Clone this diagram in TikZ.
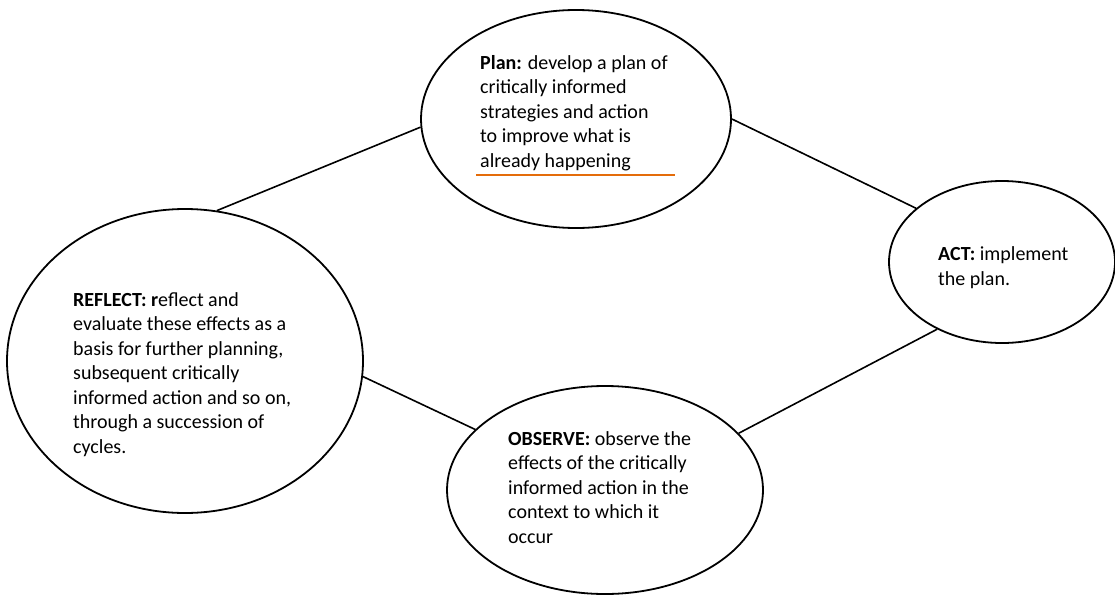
\documentclass[tikz,border=0pt]{standalone}
\usepackage{fontspec}
\setmainfont{Carlito}
\usetikzlibrary{positioning,shapes}
\definecolor{lineorange}{RGB}{228,108,10}

\begin{document}
\begin{tikzpicture}[
  x=1pt,y=-1pt,
  stage/.style={draw,ellipse,line width=1.8pt,inner sep=0pt},
  stagetext/.style={align=left,anchor=base west,inner sep=0pt,
    font=\fontsize{20}{24.5}\selectfont}
]
\useasboundingbox (0,0) rectangle (1115,594);

\node[stage,minimum width=310pt,minimum height=218pt] (plan) at (576,119) {};
\node[stage,minimum width=226pt,minimum height=162pt] (act) at (1002,262) {};
\node[stage,minimum width=356pt,minimum height=304pt] (reflect) at (185,361) {};
\node[stage,minimum width=316pt,minimum height=208pt] (observe) at (605,490) {};

% text blocks, anchored at the last line
\node[stagetext] (plantext) at ([shift={(-96,48)}]plan.center)
  {\textbf{Plan:} develop a plan of\\critically informed\\strategies and action\\to improve what is\\already happening};
\node[stagetext] (acttext) at ([shift={(-64,23)}]act.center)
  {\textbf{ACT:} implement\\the plan.};
\node[stagetext] (reflecttext) at ([shift={(-112,92)}]reflect.center)
  {\textbf{REFLECT: r}eflect and\\evaluate these effects as a\\basis for further planning,\\subsequent critically\\informed action and so on,\\through a succession of\\cycles.};
\node[stagetext] (observetext) at ([shift={(-97,53)}]observe.center)
  {\textbf{OBSERVE:} observe the\\effects of the critically\\informed action in the\\context to which it\\occur};

\draw[lineorange,line width=1.6pt] ([shift={(-100,56)}]plan.center) -- ([shift={(99,56)}]plan.center);

\path[line width=1.6pt] (reflect.78.5) edge (plan.183)
(plan.0) edge (act.148)
(act.226) edge (observe.23.7)
(observe.155.6) edge (reflect.355.5);
\end{tikzpicture}
\end{document}
